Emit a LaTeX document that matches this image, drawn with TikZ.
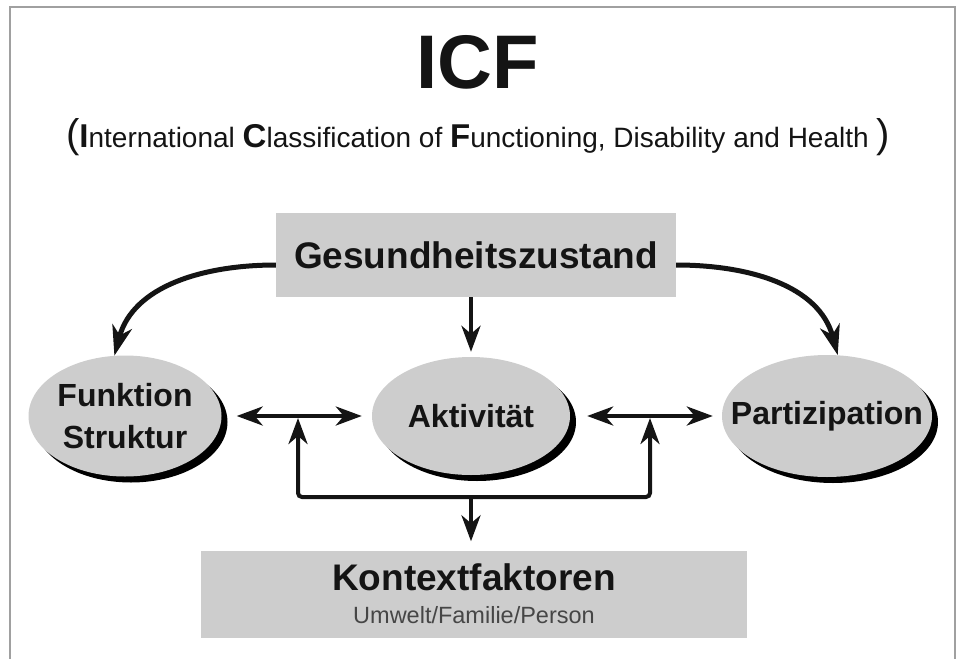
\documentclass[tikz,border=0pt]{standalone}
\usepackage{fontspec}
\setmainfont{Liberation Sans}
\usetikzlibrary{arrows.meta,positioning,calc,shapes.geometric,shadows}
\definecolor{FillGray}{RGB}{205,205,205}
\definecolor{FrameGray}{RGB}{160,160,160}
\definecolor{TextGray}{RGB}{70,70,70}
\definecolor{InkBlack}{RGB}{20,20,20}
\newcommand{\capini}[1]{{\bfseries\fontsize{33}{33}\selectfont #1}}
\newcommand{\bigparen}[1]{{\fontsize{40}{40}\selectfont #1}}
\tikzset{
  oval/.style={ellipse, fill=FillGray, inner sep=0pt, align=center, text=InkBlack,
    font=\bfseries\fontsize{32}{42}\selectfont,
    drop shadow={shadow xshift=6pt, shadow yshift=-6pt, fill=black, opacity=1}},
  greybox/.style={rectangle, fill=FillGray, inner sep=0pt, align=center, text=InkBlack},
  arr/.style={line width=4pt, InkBlack, -{Stealth[length=26pt,width=19pt,inset=8pt]}},
  biarr/.style={line width=4pt, InkBlack,
    {Stealth[length=26pt,width=19pt,inset=8pt]}-{Stealth[length=26pt,width=19pt,inset=8pt]}},
  curvearr/.style={line width=5pt, InkBlack, -{Stealth[length=30pt,width=20pt,inset=9pt]}}
}
\begin{document}
\begin{tikzpicture}[x=1pt, y=-1pt]
  \useasboundingbox (0,0) rectangle (962,659);
  % frame
  \draw[FrameGray, line width=2pt] (10,659) |- (955,7) -- (955,659);
  % title
  \node[anchor=base, text=InkBlack, font=\bfseries\fontsize{76}{76}\selectfont] (title) at (478,88) {ICF};
  \node[anchor=base, text=InkBlack, font=\fontsize{28}{28}\selectfont] (subtitle) at (478,147)
    {\bigparen{(}\capini{I}nternational \capini{C}lassification of \capini{F}unctioning, Disability and Health \bigparen{)}};
  % boxes
  \node[greybox, minimum width=400pt, minimum height=84pt, font=\bfseries\fontsize{37}{37}\selectfont] (gesund) at (476,255) {Gesundheitszustand};
  \node[greybox, minimum width=546pt, minimum height=87pt] (kontext) at (474,594)
    {{\bfseries\fontsize{37}{34}\selectfont Kontextfaktoren}\\[15pt]
     {\fontsize{23.5}{23.5}\selectfont\color{TextGray}Umwelt/Familie/Person}};
  % ellipses
  \node[oval, minimum width=193pt, minimum height=121pt] (funktion) at (125,416) {Funktion\\Struktur};
  \node[oval, minimum width=198pt, minimum height=118pt] (aktiv) at (471,416) {Aktivität};
  \node[oval, inner xsep=-25pt, minimum width=210pt, minimum height=122pt] (partiz) at (827,416) {Partizipation};
  % junctions
  \coordinate (jl) at (298,416);
  \coordinate (jr) at (650,416);
  \coordinate (bl) at (298,497);
  \coordinate (br) at (650,497);
  \coordinate (bm) at (471,497);
  % connectors
  \draw[curvearr] ([yshift=-10pt]gesund.west) to[out=180, in=75] (funktion.100);
  \draw[curvearr] ([yshift=-10pt]gesund.east) to[out=0, in=105] (partiz.80);
  \draw[arr, shorten >=5pt] (gesund.south -| aktiv.north) -- (aktiv.north);
  \draw[biarr, shorten <=15pt, shorten >=10pt] (funktion.east) -- (aktiv.west);
  \draw[biarr, shorten <=17pt, shorten >=9pt] (aktiv.east) -- (partiz.west);
  \draw[biarr, rounded corners=4pt, shorten <=2pt, shorten >=2pt] (jl) -- (bl) -- (br) -- (jr);
  \draw[arr, shorten >=9pt] (bm) -- (kontext.north -| bm);
\end{tikzpicture}
\end{document}
